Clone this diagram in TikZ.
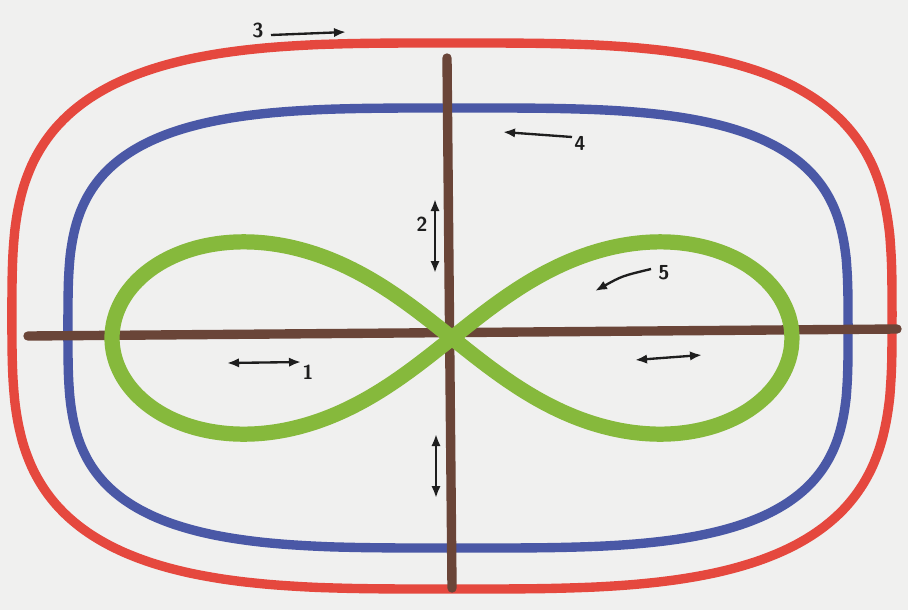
\documentclass[tikz,border=0pt]{standalone}
\usepackage{tikz}
\usetikzlibrary{arrows.meta,positioning}
\definecolor{paperbg}{HTML}{F0F0EF}
\definecolor{loopred}{HTML}{E5483E}
\definecolor{loopblue}{HTML}{4A58A6}
\definecolor{crossbrown}{HTML}{6A4538}
\definecolor{eightgreen}{HTML}{86B93C}
\definecolor{inkblack}{HTML}{1E1E1E}
\begin{document}
\begin{tikzpicture}[
    x=0.03cm,y=-0.03cm,
    paint/.style = {line width=#1,line cap=round,line join=round},
    mv/.style    = {-{Latex[length=3.6mm,width=2.8mm]},inkblack,line width=2pt},
    mvb/.style   = {{Latex[length=3.6mm,width=2.8mm]}-{Latex[length=3.6mm,width=2.8mm]},inkblack,line width=2pt},
    num/.style   = {font=\sffamily\bfseries\LARGE,text=inkblack,inner sep=1pt},
  ]

  % paper
  \fill[paperbg] (0,0) rectangle (908,610);
  \useasboundingbox (0,0) rectangle (908,610);

  % outer and inner loops (squarish ellipses)
  \draw[loopred,paint=8pt]
    plot[domain=0:360,samples=240,smooth cycle]
      ({452+440*sign(cos(\x))*pow(abs(cos(\x)),2/3.3)},{316+273*sign(sin(\x))*pow(abs(sin(\x)),2/3.3)});
  \draw[loopblue,paint=8pt]
    plot[domain=0:360,samples=240,smooth cycle]
      ({458+390*sign(cos(\x))*pow(abs(cos(\x)),2/3.5)},{328+220*sign(sin(\x))*pow(abs(sin(\x)),2/3.5)});

  % brown cross
  \draw[crossbrown,paint=8pt] (447,58) -- (452,588);
  \draw[crossbrown,paint=8pt] (28,336) -- (897,329);

  % green figure eight
  \draw[eightgreen,paint=13pt]
    plot[domain=0:360,samples=160,smooth cycle]
      ({452+340*cos(\x)/(1+sin(\x)^2)},{338-0.8*340*sin(\x)*cos(\x)/(1+sin(\x)^2)});

  % labels
  \node[num] (n3) at (258,30)  {3};
  \node[num] (n4) at (580,143) {4};
  \node[num] (n2) at (422,224) {2};
  \node[num] (n5) at (664,273) {5};
  \node[num] (n1) at (308,372) {1};

  % motion arrows
  \coordinate (a3s) at (271,35);  \coordinate (a3e) at (346,32);
  \coordinate (a4s) at (572,137); \coordinate (a4e) at (503,132);
  \coordinate (a2s) at (435,199); \coordinate (a2e) at (435,273);
  \coordinate (a5s) at (651,269); \coordinate (a5e) at (595,291);
  \coordinate (a1s) at (227,363); \coordinate (a1e) at (301,362);
  \coordinate (a6s) at (635,360); \coordinate (a6e) at (702,355);
  \coordinate (a7s) at (436,434); \coordinate (a7e) at (436,498);

  \draw[mv]  (a3s) -- (a3e);
  \draw[mv]  (a4s) -- (a4e);
  \draw[mvb] (a2s) -- (a2e);
  \draw[mv]  (a5s) .. controls (622,276) .. (a5e);
  \draw[mvb] (a1s) -- (a1e);
  \draw[mvb] (a6s) -- (a6e);
  \draw[mvb] (a7s) -- (a7e);

\end{tikzpicture}
\end{document}
